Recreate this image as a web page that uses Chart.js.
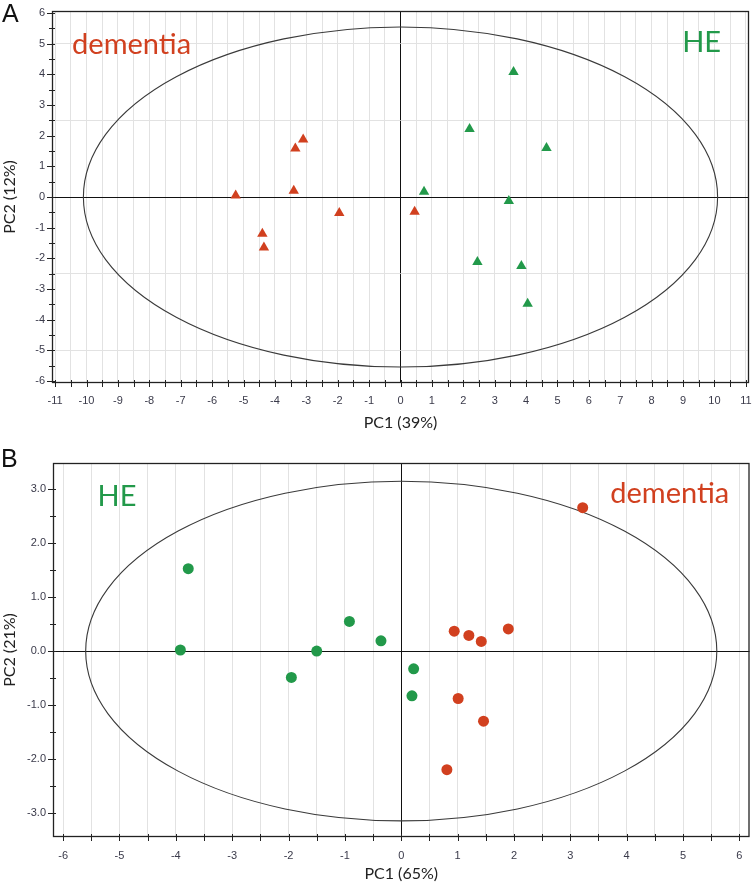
<!DOCTYPE html>
<html><head><meta charset="utf-8">
<script src="https://cdn.jsdelivr.net/npm/chart.js@4/dist/chart.umd.min.js"></script>
<style>
html,body{margin:0;padding:0;background:#fff;overflow:hidden;width:752px;height:886px;}
canvas{position:absolute;left:0;}
#ca{top:0;}
#cb{top:440px;}
</style></head><body>
<canvas id="ca" width="755" height="440"></canvas>
<canvas id="cb" width="755" height="446"></canvas>
<script>
// ---------- Panel A (triangles) ----------
const A_dementia_pc1 = [-5.25, -3.40, -3.35, -3.10, -1.95, -4.40, -4.35, 0.45];
const A_dementia_pc2 = [ 0.05,  0.20,  1.58,  1.88, -0.52, -1.20, -1.65, -0.48];
const A_he_pc1 = [3.60, 2.20, 4.65, 0.75, 3.45, 2.45, 3.85, 4.05];
const A_he_pc2 = [4.08, 2.22, 1.60, 0.17, -0.13, -2.12, -2.25, -3.48];
const A_xLabel = 'PC1 (39%)';
const A_yLabel = 'PC2 (12%)';
const A_ellipse = [10.1, 5.55];

// ---------- Panel B (circles) ----------
const B_he_pc1 = [-3.78, -3.92, -1.50, -0.92, -0.36, -1.95, 0.22, 0.19];
const B_he_pc2 = [ 1.53,  0.02,  0.00,  0.55,  0.19, -0.49, -0.33, -0.83];
const B_dementia_pc1 = [3.22, 0.94, 1.20, 1.42, 1.90, 1.01, 1.46, 0.81];
const B_dementia_pc2 = [2.66, 0.37, 0.29, 0.18, 0.41, -0.88, -1.30, -2.20];
const B_xLabel = 'PC1 (65%)';
const B_yLabel = 'PC2 (21%)';
const B_ellipse = [5.6, 3.15];

const groupNames = ['dementia', 'HE'];
const RED = '#d1401f';
const GREEN = '#22994a';

function pts(xs, ys){ return xs.map((v,i)=>({x:v, y:ys[i]})); }
const isInt = v => Math.abs(v - Math.round(v)) < 1e-6;

function decor(o){
  return {
    id:'decor',
    beforeDatasetsDraw(chart){
      const {ctx, chartArea:ca, scales:{x,y}} = chart;
      ctx.save();
      const cx = x.getPixelForValue(0), cy = y.getPixelForValue(0);
      const rx = x.getPixelForValue(o.ellipse[0]) - cx;
      const ry = cy - y.getPixelForValue(o.ellipse[1]);
      ctx.beginPath(); ctx.ellipse(cx, cy, rx, ry, 0, 0, Math.PI*2);
      ctx.strokeStyle = '#3a3a3a'; ctx.lineWidth = 1.1; ctx.stroke();
      ctx.strokeStyle = '#222'; ctx.lineWidth = 1.3;
      ctx.strokeRect(ca.left+0.5, ca.top+0.5, ca.right-ca.left-1, ca.bottom-ca.top-1);
      ctx.lineWidth = 1; ctx.strokeStyle = '#222';
      x.ticks.forEach(t=>{
        const px = Math.round(x.getPixelForValue(t.value))+0.5;
        ctx.beginPath(); ctx.moveTo(px, ca.bottom-3); ctx.lineTo(px, ca.bottom+4); ctx.stroke();
      });
      y.ticks.forEach(t=>{
        const py = Math.round(y.getPixelForValue(t.value))+0.5;
        const m = isInt(t.value);
        ctx.beginPath(); ctx.moveTo(ca.left-(m?5:3), py); ctx.lineTo(ca.left+3, py); ctx.stroke();
      });
      ctx.restore();
    },
    afterDraw(chart){
      const {ctx, scales:{x,y}} = chart;
      ctx.save();
      ctx.textBaseline = 'alphabetic'; ctx.textAlign = 'left';
      o.notes.forEach(n=>{
        ctx.font = '29px Lato';
        ctx.fillStyle = n.color;
        ctx.fillText(n.text, x.getPixelForValue(n.x), y.getPixelForValue(n.y));
      });
      ctx.font = '25px "Liberation Sans"'; ctx.fillStyle = '#111';
      ctx.fillText(o.letter, o.letterPos[0], o.letterPos[1]);
      ctx.restore();
    }
  };
}

function build(id, o){
  return new Chart(document.getElementById(id), {
    type:'scatter',
    data:{datasets:o.datasets},
    options:{
      responsive:false, animation:false,
      layout:{padding:{top:o.padTop, right:2, left:0, bottom:0}},
      plugins:{legend:{display:false}, tooltip:{enabled:false}},
      scales:{
        x:{
          type:'linear', min:o.xr[0], max:o.xr[1],
          afterFit:s=>{s.height = o.xH; s.paddingLeft = 0; s.paddingRight = 0;},
          ticks:{stepSize:0.5, includeBounds:false, autoSkip:false, maxRotation:0,
            padding:o.xTickPad, color:'#3a3a4a', font:{family:'"Liberation Sans"', size:11},
            callback:v=> isInt(v) ? String(Math.round(v)) : ''},
          grid:{drawTicks:false, lineWidth:1,
            color:c=> (c.tick && Math.abs(c.tick.value)<1e-6) ? '#111' : '#e2e2e2'},
          border:{display:false},
          title:{display:true, text:o.xLabel, color:'#222', font:{family:'Lato', size:16},
            padding:{top:0, bottom:o.xTitlePad}}
        },
        y:{
          type:'linear', min:o.yr[0], max:o.yr[1],
          afterFit:s=>{s.width = o.yW; s.paddingTop = 0; s.paddingBottom = 0;},
          ticks:{stepSize:0.5, includeBounds:false, autoSkip:false,
            padding:7, color:'#3a3a4a', font:{family:'"Liberation Sans"', size:11},
            callback:v=> isInt(v) ? o.yFmt(Math.round(v)) : ''},
          grid:{drawTicks:false, lineWidth:1,
            color:c=>{
              if(!c.tick) return 'rgba(0,0,0,0)';
              const v = c.tick.value;
              if(Math.abs(v)<1e-6) return '#111';
              if(o.yGridEvery && Math.abs(v/o.yGridEvery - Math.round(v/o.yGridEvery))<1e-6) return '#e2e2e2';
              return 'rgba(0,0,0,0)';
            }},
          border:{display:false},
          title:{display:true, text:o.yLabel, color:'#222', font:{family:'Lato', size:16},
            padding:{top:0, bottom:0}}
        }
      }
    },
    plugins:[decor(o)]
  });
}

build('ca', {
  datasets:[
    {label:groupNames[0], data:pts(A_dementia_pc1, A_dementia_pc2), pointStyle:'triangle', pointRadius:6,
      backgroundColor:RED, borderColor:RED, borderWidth:0},
    {label:groupNames[1], data:pts(A_he_pc1, A_he_pc2), pointStyle:'triangle', pointRadius:6,
      backgroundColor:GREEN, borderColor:GREEN, borderWidth:0}
  ],
  xr:[-11.1, 11.1], yr:[-6.07, 6.07], padTop:11, xH:57, yW:52, xTickPad:11, xTitlePad:8,
  xLabel:A_xLabel, yLabel:A_yLabel, yFmt:v=>String(v), yGridEvery:2.5,
  ellipse:A_ellipse,
  notes:[{text:groupNames[0], color:RED, x:-10.46, y:4.68},{text:groupNames[1], color:GREEN, x:8.97, y:4.72}],
  letter:'A', letterPos:[2,22]
});

build('cb', {
  datasets:[
    {label:groupNames[1], data:pts(B_he_pc1, B_he_pc2), pointStyle:'circle', pointRadius:5.5,
      backgroundColor:GREEN, borderColor:GREEN, borderWidth:0},
    {label:groupNames[0], data:pts(B_dementia_pc1, B_dementia_pc2), pointStyle:'circle', pointRadius:5.5,
      backgroundColor:RED, borderColor:RED, borderWidth:0}
  ],
  xr:[-6.18, 6.18], yr:[-3.45, 3.49], padTop:23, xH:49, yW:53, xTickPad:12, xTitlePad:3,
  xLabel:B_xLabel, yLabel:B_yLabel, yFmt:v=>v.toFixed(1), yGridEvery:0,
  ellipse:B_ellipse,
  notes:[{text:groupNames[1], color:GREEN, x:-5.39, y:2.70},{text:groupNames[0], color:RED, x:3.71, y:2.74}],
  letter:'B', letterPos:[1,27]
});
</script>
</body></html>
